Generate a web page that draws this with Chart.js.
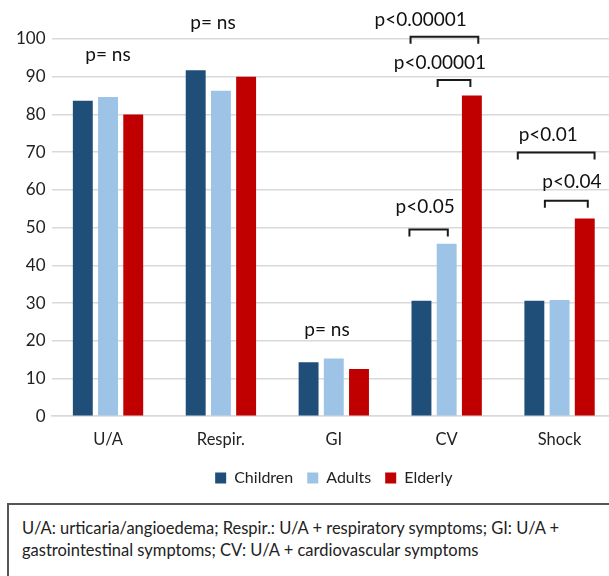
<!DOCTYPE html>
<html lang="en">
<head>
    <meta charset="UTF-8">
    <title>Symptoms by age group</title>
    <script src="https://cdn.jsdelivr.net/npm/chart.js@4.4.1/dist/chart.umd.min.js"></script>
    <style>
        body { margin: 0; background: #fff; overflow: hidden; font-family: Lato, sans-serif; }
        .wrap { position: relative; width: 616px; height: 496px; }
        .note {
            position: absolute; left: 7px; top: 503px; width: 640px; height: 120px;
            border: 2px solid #555; box-sizing: border-box;
            padding: 12px 0 0 13px; font-size: 16.5px; line-height: 22px; color: #222;
        }
    </style>
</head>
<body>
    <div class="wrap">
        <canvas id="chart"></canvas>
    </div>
    <div class="note">U/A: urticaria/angioedema; Respir.: U/A + respiratory symptoms; GI: U/A +<br>gastrointestinal symptoms; CV: U/A + cardiovascular symptoms</div>

    <script>
        const categories = ['U/A', 'Respir.', 'GI', 'CV', 'Shock']
        const children = [83.6, 91.7, 14.3, 30.6, 30.6]
        const adults = [84.6, 86.3, 15.3, 45.7, 30.8]
        const elderly = [80.0, 90.0, 12.5, 85.0, 52.4]
        const yTicks = [0, 10, 20, 30, 40, 50, 60, 70, 80, 90, 100]

        // p-value labels: text, x (category units), y (value units)
        const pLabels = [
            ['p= ns', 0, 95.9],
            ['p= ns', 0.93, 104.4],
            ['p= ns', 1.94, 22.9],
            ['p<0.00001', 2.77, 105.2],
            ['p<0.00001', 2.94, 93.7],
            ['p<0.05', 2.81, 55.5],
            ['p<0.01', 3.90, 74.5],
            ['p<0.04', 4.11, 62.1]
        ]
        // brackets: from x, to x (category units), level (value units)
        const brackets = [
            [2.68, 3.28, 100.6],
            [2.92, 3.21, 89.1],
            [2.67, 3.01, 49.5],
            [3.63, 4.31, 69.9],
            [3.87, 4.25, 57.1]
        ]

        const pValues = {
            id: 'pValues',
            afterDatasetsDraw(chart) {
                const ctx = chart.ctx
                const x = chart.scales.x
                const y = chart.scales.y
                ctx.save()
                ctx.strokeStyle = '#1a1a1a'
                ctx.lineWidth = 2
                brackets.forEach(b => {
                    const x0 = x.getPixelForValue(b[0])
                    const x1 = x.getPixelForValue(b[1])
                    const yy = y.getPixelForValue(b[2])
                    ctx.beginPath()
                    ctx.moveTo(x0, yy + 7)
                    ctx.lineTo(x0, yy)
                    ctx.lineTo(x1, yy)
                    ctx.lineTo(x1, yy + 7)
                    ctx.stroke()
                })
                ctx.fillStyle = '#111'
                ctx.font = '19px Lato'
                ctx.textAlign = 'center'
                ctx.textBaseline = 'middle'
                pLabels.forEach(p => {
                    ctx.fillText(p[0], x.getPixelForValue(p[1]), y.getPixelForValue(p[2]))
                })
                ctx.restore()
            }
        }

        // centre the legend under the plot area rather than the whole canvas
        const legendUnderPlot = {
            id: 'legendUnderPlot',
            afterLayout(chart) {
                const shift = (chart.chartArea.left + chart.chartArea.right) / 2 - (chart.legend.left + chart.legend.right) / 2
                chart.legend.left += shift
                chart.legend.right += shift
            }
        }

        let chart = document.getElementById('chart').getContext('2d')
        new Chart(chart, {
            type: 'bar',
            data: {
                labels: categories,
                datasets: [
                    { label: 'Children', data: children, backgroundColor: '#1f4e79' },
                    { label: 'Adults', data: adults, backgroundColor: '#9dc3e6' },
                    { label: 'Elderly', data: elderly, backgroundColor: '#c00000' }
                ]
            },
            options: {
                responsive: true,
                maintainAspectRatio: false,
                animation: false,
                datasets: { bar: { categoryPercentage: 0.67, barPercentage: 0.79 } },
                layout: { padding: { top: 39, left: 10, right: 0, bottom: 0 } },
                scales: {
                    x: {
                        grid: { display: false },
                        border: { color: '#d9d9d9', width: 1.5 },
                        ticks: { color: '#222', font: { family: 'Lato', size: 16.5 }, padding: 6 }
                    },
                    y: {
                        min: 0,
                        max: 100,
                        afterBuildTicks: axis => { axis.ticks = yTicks.map(v => ({ value: v })) },
                        grid: { color: '#d9d9d9', lineWidth: 1.5, drawTicks: false },
                        border: { display: false },
                        ticks: { color: '#222', font: { family: 'Lato', size: 17 }, padding: 6 }
                    }
                },
                plugins: {
                    legend: {
                        position: 'bottom',
                        labels: {
                            boxWidth: 11, boxHeight: 11, padding: 14,
                            color: '#222', font: { family: 'Lato', size: 16 }
                        }
                    },
                    tooltip: { enabled: false }
                }
            },
            plugins: [pValues, legendUnderPlot]
        })
    </script>
</body>
</html>
